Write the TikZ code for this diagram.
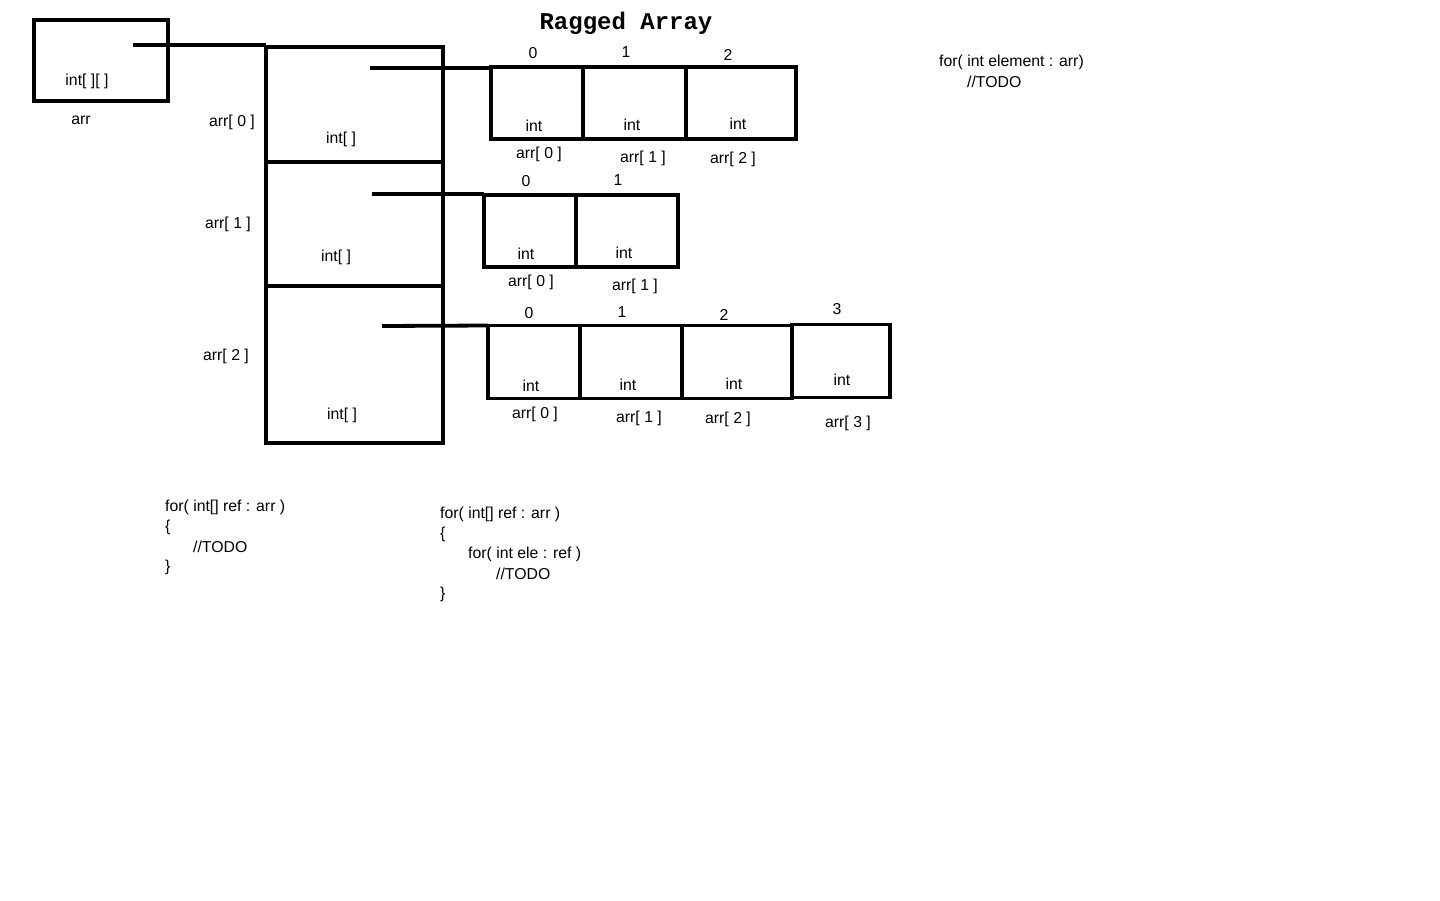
\documentclass[tikz,border=0pt]{standalone}
\usepackage{fontspec}
\setmainfont{Liberation Sans}
\newfontfamily\titlefont{Liberation Mono}
\begin{document}
\begin{tikzpicture}[x=1pt,y=-1pt,
  font=\fontsize{15.8}{18}\selectfont,
  box/.style={draw, line width=3.8pt, inner sep=0pt, outer sep=0pt},
  txt/.style={inner sep=0pt},
  code/.style={inner sep=0pt, anchor=west},
  wire/.style={line width=3.8pt}]
\useasboundingbox[fill=white] (0,0) rectangle (1440,900);

% title
\node[txt] (title) at (626,23) {\titlefont\bfseries\fontsize{24}{27}\selectfont Ragged Array};

% arr reference box
\node[box, minimum width=134pt, minimum height=81pt] (arrbox) at (101,60.5) {};
\node[txt] (arrtype) at (87,81) {int[ ][ ]};
\node[txt] (arrname) at (81,120) {arr};
\coordinate (ap) at (133,45);

% outer array of references
\node[box, minimum width=177pt, minimum height=115pt] (o0) at (354.5,104.5) {};
\node[box, minimum width=177pt, minimum height=124pt] (o1) at (354.5,224) {};
\node[box, minimum width=177pt, minimum height=157pt] (o2) at (354.5,364.5) {};
\node[txt] (o0t) at (341,139) {int[ ]};
\node[txt] (o1t) at (336,257) {int[ ]};
\node[txt] (o2t) at (342,415) {int[ ]};
\node[txt] (o0l) at (232,122) {arr[ 0 ]};
\node[txt] (o1l) at (228,224) {arr[ 1 ]};
\node[txt] (o2l) at (226,356) {arr[ 2 ]};
\draw[wire] (ap) -- (o0.north west |- ap);

\coordinate (p0) at (370,68);
\coordinate (p1) at (372,194);
\coordinate (p2) at (382,326);

% row 0
\node[box, minimum width=92pt, minimum height=72pt] (a0) at (537,103) {};
\node[box, minimum width=103pt, minimum height=72pt] (a1) at (634.5,103) {};
\node[box, minimum width=110pt, minimum height=72pt] (a2) at (741,103) {};
\draw[wire] (p0) -- (a0.west |- p0);
\node[txt] (a0i) at (533,53) {0};
\node[txt] (a1i) at (626,52) {1};
\node[txt] (a2i) at (728,55) {2};
\node[txt] (a0t) at (534,126) {int};
\node[txt] (a1t) at (632,125) {int};
\node[txt] (a2t) at (738,124) {int};
\node[txt] (a0l) at (539,154) {arr[ 0 ]};
\node[txt] (a1l) at (643,158) {arr[ 1 ]};
\node[txt] (a2l) at (733,159) {arr[ 2 ]};

% row 1
\node[box, minimum width=92pt, minimum height=72pt] (b0) at (530,231) {};
\node[box, minimum width=102pt, minimum height=72pt] (b1) at (627,231) {};
\draw[wire] (p1) -- (b0.west |- p1);
\node[txt] (b0i) at (526,181) {0};
\node[txt] (b1i) at (618,180) {1};
\node[txt] (b0t) at (526,254) {int};
\node[txt] (b1t) at (624,253) {int};
\node[txt] (b0l) at (531,282) {arr[ 0 ]};
\node[txt] (b1l) at (635,286) {arr[ 1 ]};

% row 2
\node[box, minimum width=92pt, minimum height=73pt] (c0) at (534,362) {};
\node[box, minimum width=102pt, minimum height=73pt] (c1) at (631,362) {};
\node[box, minimum width=110pt, minimum height=73pt] (c2) at (737,362) {};
\node[box, minimum width=98pt, minimum height=73pt] (c3) at (841,361) {};
\draw[wire] (p2) -- (c0.north west);
\node[txt] (c0i) at (529,313) {0};
\node[txt] (c1i) at (622,312) {1};
\node[txt] (c2i) at (724,315) {2};
\node[txt] (c3i) at (837,309) {3};
\node[txt] (c0t) at (531,386) {int};
\node[txt] (c1t) at (628,385) {int};
\node[txt] (c2t) at (734,384) {int};
\node[txt] (c3t) at (842,380) {int};
\node[txt] (c0l) at (535,414) {arr[ 0 ]};
\node[txt] (c1l) at (639,418) {arr[ 1 ]};
\node[txt] (c2l) at (728,419) {arr[ 2 ]};
\node[txt] (c3l) at (848,423) {arr[ 3 ]};

% code: right
\node[code] (r1) at (939,62) {for( int element : arr)};
\node[code] (r2) at (967,82) {//TODO};

% code: left
\node[code] (l1) at (165,507) {for( int[] ref : arr )};
\node[code] (l2) at (165,527) {\{};
\node[code] (l3) at (193,547) {//TODO};
\node[code] (l4) at (165,567) {\}};

% code: middle
\node[code] (m1) at (440,514) {for( int[] ref : arr )};
\node[code] (m2) at (440,534) {\{};
\node[code] (m3) at (468,554) {for( int ele : ref )};
\node[code] (m4) at (496,574) {//TODO};
\node[code] (m5) at (440,594) {\}};
\end{tikzpicture}
\end{document}
